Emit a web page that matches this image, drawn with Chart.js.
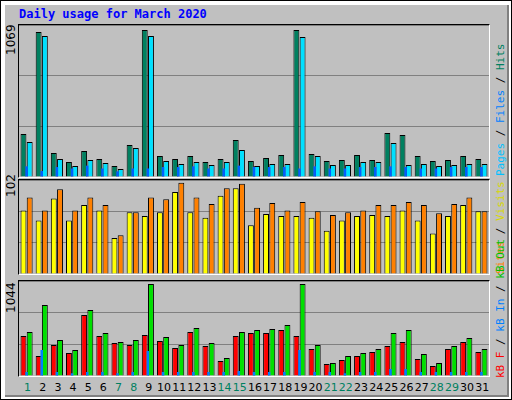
<!DOCTYPE html>
<html><head><meta charset="utf-8">
<script src="https://cdn.jsdelivr.net/npm/chart.js@4"></script>
<style>
body{margin:0;background:#fff}
#frame{position:absolute;left:0;top:0;width:510px;height:398px;border:1px solid #000;background:#fff}
#inner{position:absolute;left:4px;top:4px;width:504px;height:392px;background:#c0c0c0;border-right:2px solid #808080;border-bottom:2px solid #808080;box-sizing:border-box}
.title{position:absolute;left:19px;top:7px;font:bold 12px "DejaVu Sans Mono",monospace;color:#0000ff}
.panel{position:absolute;left:18px;width:472px;border:1px solid #000;border-right-color:#fff;border-bottom-color:#fff;box-sizing:border-box}
.panel canvas{display:block}
.ylab{position:absolute;font:12px "DejaVu Sans",sans-serif;color:#000;transform-origin:0 0;transform:rotate(-90deg);white-space:nowrap}
.leg{position:absolute;font:11px "DejaVu Sans Mono",monospace;transform-origin:0 0;transform:rotate(-90deg);white-space:nowrap}
.days{position:absolute;top:381px;left:20px;width:470px;display:flex;font:11px "DejaVu Sans",sans-serif}
.days span{flex:1;text-align:center}
</style></head><body>
<div id="frame"><div id="inner"></div></div>
<div class="title">Daily usage for March 2020</div>
<div class="panel" style="top:24px;height:154px"><canvas id="c1"></canvas></div>
<div class="panel" style="top:179px;height:96px"><canvas id="c2"></canvas></div>
<div class="panel" style="top:280px;height:97px"><canvas id="c3"></canvas></div>
<div class="ylab" style="left:4px;top:55px">1069</div>
<div class="ylab" style="left:4px;top:197px">102</div>
<div class="ylab" style="left:4px;top:313px">1044</div>
<div class="leg" style="left:494px;top:176px"><span style="color:#00c0ff">Pages</span> / <span style="color:#0080ff">Files</span> / <span style="color:#008060">Hits</span></div>
<div class="leg" style="left:494px;top:274px"><span style="color:#ff8000">Sites</span> / <span style="color:#d8d800">Visits</span></div>
<div class="leg" style="left:494px;top:378px"><span style="color:#ff0000">kB F</span> / <span style="color:#0080ff">kB In</span> / <span style="color:#00c000">kB Out</span></div>
<div class="days" id="days"></div>
<script>
const days = ['1','2','3','4','5','6','7','8','9','10','11','12','13','14','15','16','17','18','19','20','21','22','23','24','25','26','27','28','29','30','31'];
const weekend = [1,7,8,14,15,21,22,28,29];
const hits = [302,1020,169,105,183,127,77,225,1034,148,127,148,105,127,260,112,134,155,1034,162,112,120,155,120,309,295,148,112,120,148,127];
const files = [246,991,127,77,120,98,56,204,991,112,91,105,84,105,190,77,91,91,984,148,84,84,105,105,239,84,91,77,84,91,91];
const pages = [75,42,70,60,80,60,40,60,60,70,70,75,60,60,80,70,70,70,60,75,60,60,70,70,75,70,60,60,70,70,70];
const visits = [69,58,82,58,75,69,39,67,63,67,89,67,61,85,93,53,65,63,63,61,47,58,63,64,63,69,58,44,63,75,68];
const sites = [83,69,92,69,83,75,42,67,83,81,99,83,76,93,98,72,77,69,78,68,64,67,69,75,75,78,75,66,76,83,68];
const kbF = [440,220,341,253,671,440,363,341,451,385,308,484,330,165,440,473,473,506,440,297,132,176,220,264,330,374,187,110,297,374,264];
const kbIn = [44,286,44,30,44,44,30,44,275,44,44,44,44,44,55,44,44,44,286,44,44,30,44,44,77,77,44,44,44,44,44];
const kbOut = [484,781,396,286,726,473,374,396,1012,429,341,528,363,198,484,506,517,561,1012,341,143,220,253,297,473,506,242,143,330,418,297];
const maxes = [1069, 102, 1044];

const daysEl = document.getElementById('days');
days.forEach(d => {
  const s = document.createElement('span');
  s.textContent = d;
  s.style.color = weekend.includes(+d) ? '#008060' : '#000';
  daysEl.appendChild(s);
});

function bar(data, color, extra) {
  return Object.assign({ data: data, backgroundColor: color, borderColor: '#000', borderWidth: 1,
    categoryPercentage: 0.82, barPercentage: 0.95 }, extra || {});
}

function makeChart(id, datasets, max) {
  new Chart(document.getElementById(id), {
    type: 'bar',
    data: { labels: days, datasets: datasets },
    options: {
      responsive: true, maintainAspectRatio: false, animation: false,
      layout: { padding: 0 },
      plugins: { legend: { display: false }, tooltip: { enabled: false } },
      scales: {
        x: { display: false },
        y: {
          min: 0, max: max,
          ticks: { display: false, stepSize: max / 3 },
          grid: { color: '#808080', lineWidth: 1, drawTicks: false },
          border: { display: false },
          afterFit: s => { s.width = 0; }
        }
      }
    }
  });
}

makeChart('c1', [
  bar(hits, '#008060', { order: 2 }),
  bar(files, '#00e0ff', { order: 2 }),
  bar(pages, '#0060ff', { order: 1, grouped: false, barPercentage: 0.2, borderWidth: 0 })
], maxes[0]);
makeChart('c2', [
  bar(visits, '#ffff00'),
  bar(sites, '#ff8000')
], maxes[1]);
makeChart('c3', [
  bar(kbF, '#ff0000', { order: 2 }),
  bar(kbOut, '#00e000', { order: 2 }),
  bar(kbIn, '#0080ff', { order: 1, grouped: false, barPercentage: 0.2, borderWidth: 0 })
], maxes[2]);
</script>
</body></html>
